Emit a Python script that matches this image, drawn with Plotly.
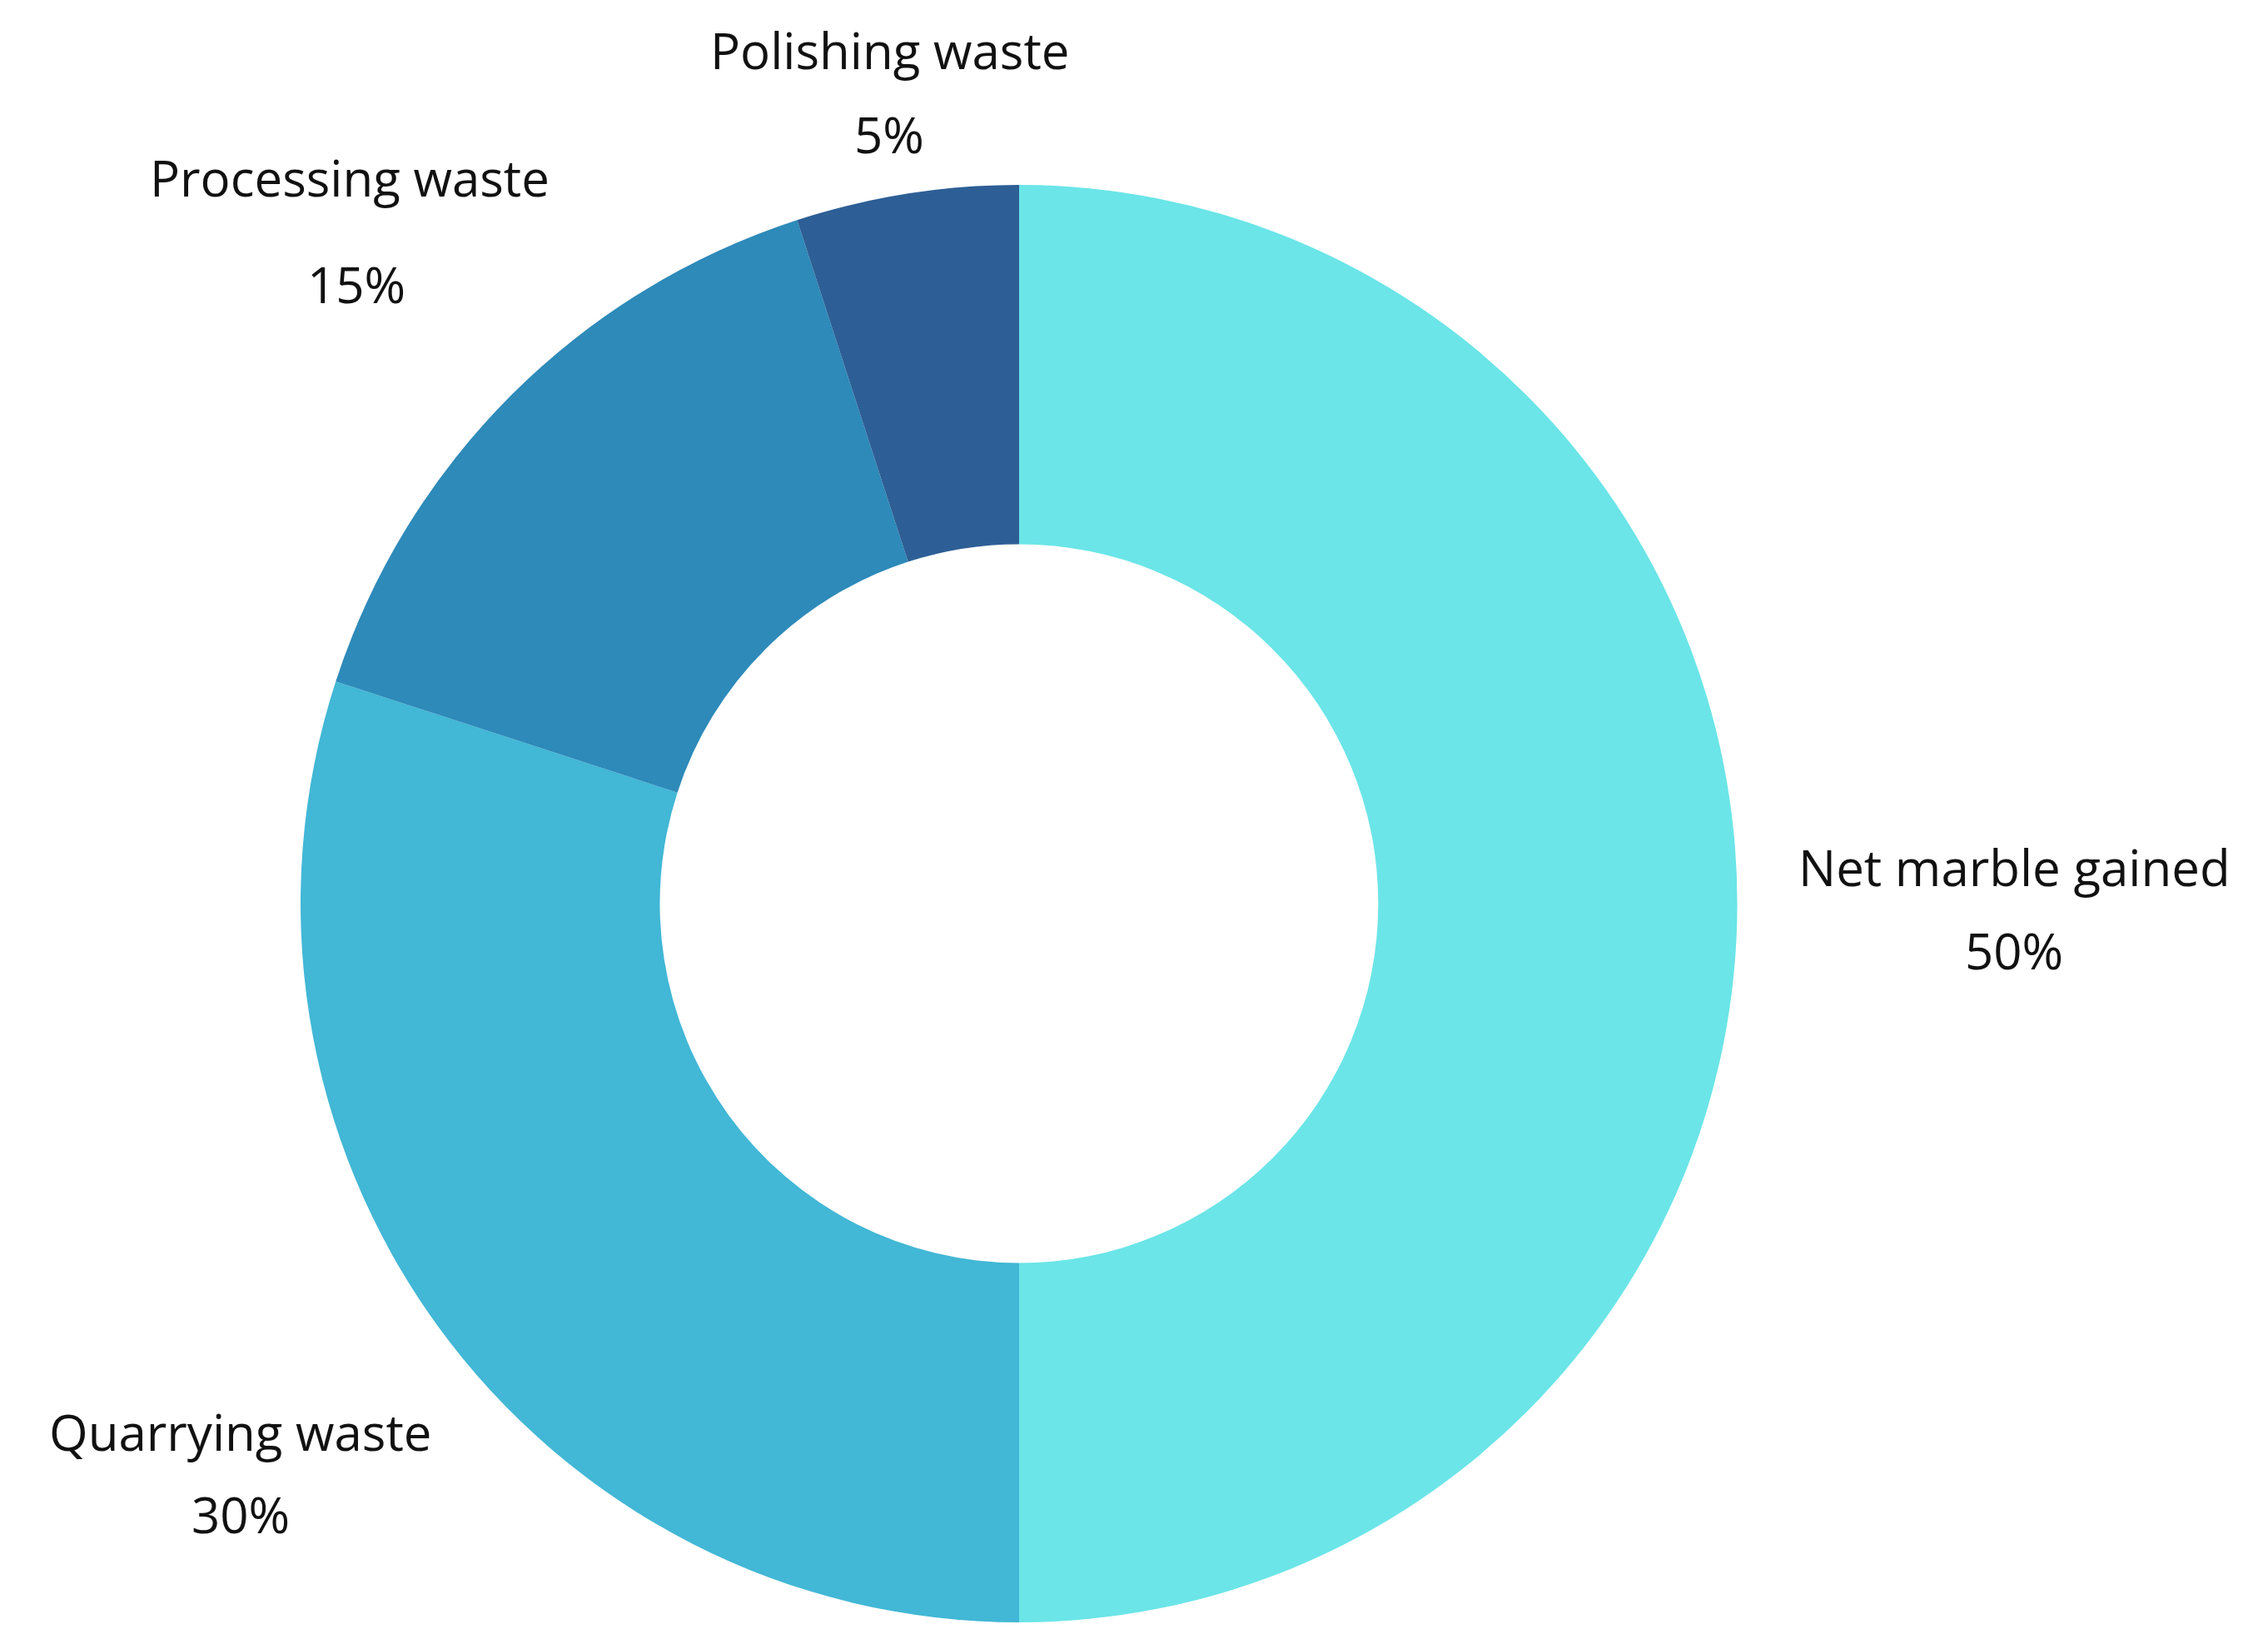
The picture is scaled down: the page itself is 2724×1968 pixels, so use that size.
import plotly.graph_objects as go

categories = ["Net marble gained", "Quarrying waste", "Processing waste", "Polishing waste"]
values = [50, 30, 15, 5]
colors = ["#6BE5E8", "#42B7D6", "#2D8AB9", "#2D5F96"]
# label anchor centres in pixels (name line, percent line)
name_pos = [(2411, 1033), (281, 1711), (412, 205), (1060, 52)]
pct_pos = [(2411, 1133), (281, 1810), (420, 333), (1060, 153)]

W, H = 2724, 1968
fig = go.Figure(go.Pie(
    labels=categories, values=values, hole=0.5, sort=False,
    direction="clockwise", rotation=0,
    marker=dict(colors=colors, line=dict(width=0)),
    textinfo="none", hoverinfo="label+percent",
    domain=dict(x=[353 / W, 2079 / W], y=[1 - 1940 / H, 1 - 214 / H]),
    showlegend=False,
))
font = dict(family="Open Sans", size=60, color="#111111")
total = sum(values)
for c, v, (nx, ny), (px, py) in zip(categories, values, name_pos, pct_pos):
    fig.add_annotation(x=nx / W, y=1 - ny / H, xref="paper", yref="paper",
                       text=c, showarrow=False, font=font, xanchor="center", yanchor="middle")
    fig.add_annotation(x=px / W, y=1 - py / H, xref="paper", yref="paper",
                       text=f"{round(100 * v / total)}%", showarrow=False, font=font,
                       xanchor="center", yanchor="middle")
fig.update_layout(width=W, height=H, margin=dict(l=0, r=0, t=0, b=0),
                  paper_bgcolor="white", plot_bgcolor="white")
fig.write_html("out.html")
